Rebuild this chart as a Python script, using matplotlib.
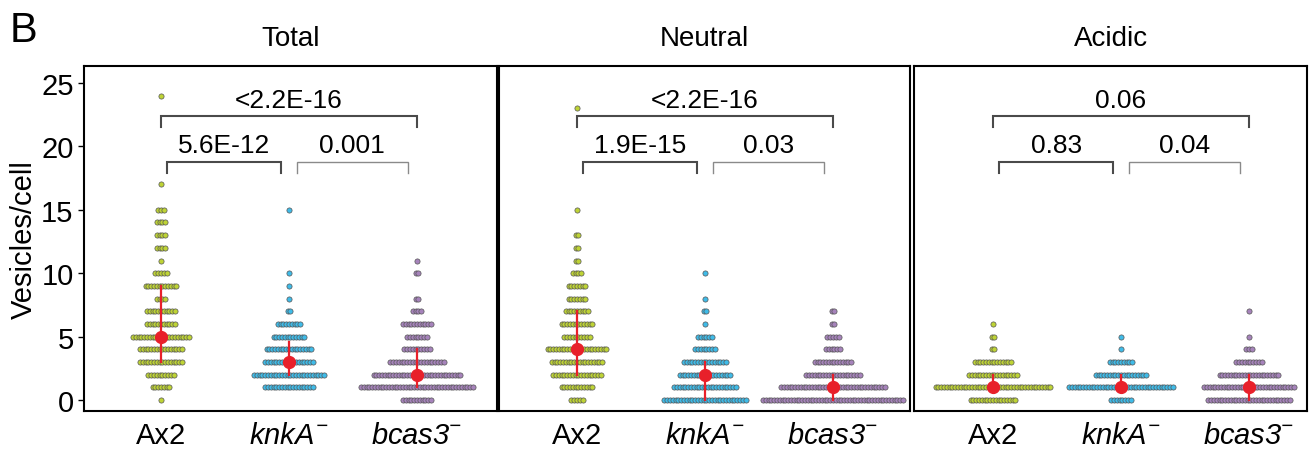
import numpy as np
import matplotlib.pyplot as plt

plt.rcParams['font.family'] = ['Liberation Sans', 'DejaVu Sans']
plt.rcParams['mathtext.fontset'] = 'custom'
# italic for the whole gene name, digits included
plt.rcParams['mathtext.rm'] = 'Liberation Sans:italic'
plt.rcParams['mathtext.it'] = 'Liberation Sans:italic'

# data: number of cells per vesicle count (index = vesicles/cell)
groups = ["Ax2", r"$\mathit{knkA}^{-}$", r"$\mathit{bcas3}^{-}$"]
colors = ["#bed335", "#3fbbe8", "#a683bb"]
panels = ["Total", "Neutral", "Acidic"]

total_ax2 = [1, 7, 10, 16, 16, 21, 11, 11, 4, 12, 5, 1, 4, 4, 4, 3, 0, 1, 0, 0, 0, 0, 0, 0, 1]
total_knka = [0, 18, 26, 18, 17, 12, 9, 2, 1, 1, 1, 0, 0, 0, 0, 1]
total_bcas3 = [11, 41, 32, 20, 10, 8, 11, 4, 2, 0, 2, 1]

neutral_ax2 = [5, 12, 18, 19, 22, 10, 12, 9, 7, 7, 4, 2, 2, 2, 0, 1, 0, 0, 0, 0, 0, 0, 0, 1]
neutral_knka = [30, 23, 19, 16, 8, 6, 1, 2, 1, 0, 1]
neutral_bcas3 = [51, 38, 20, 14, 6, 5, 2, 2]

acidic_ax2 = [17, 42, 18, 14, 2, 2, 1]
acidic_knka = [8, 38, 19, 9, 1, 1]
acidic_bcas3 = [30, 33, 22, 10, 3, 1, 0, 1]

# median, q1, q3 per group
total_stats = [(5, 3, 9), (3, 2, 4.6), (2, 1, 4)]
neutral_stats = [(4, 2, 7), (2, 0, 3), (1, 0, 2)]
acidic_stats = [(1, 1, 2), (1, 1, 2), (1, 0, 2)]

# p-values: (top bracket 1-3, 1-2, 2-3)
total_p = ["<2.2E-16", "5.6E-12", "0.001"]
neutral_p = ["<2.2E-16", "1.9E-15", "0.03"]
acidic_p = ["0.06", "0.83", "0.04"]

counts = [[total_ax2, total_knka, total_bcas3],
          [neutral_ax2, neutral_knka, neutral_bcas3],
          [acidic_ax2, acidic_knka, acidic_bcas3]]
stats = [total_stats, neutral_stats, acidic_stats]
pvals = [total_p, neutral_p, acidic_p]

W, H = 1316, 452
fig = plt.figure(figsize=(W / 100, H / 100), dpi=100)

# axes boxes in pixels: left, right, centre of first group
boxes = [(84, 497, 161), (499, 910, 577), (914, 1307, 993)]
top, bottom = 67, 412
px_unit = 128.0
py_unit = 12.68
y0 = 401

dx = 2.8 / px_unit

for k in range(3):
    l, r, c1 = boxes[k]
    ax = fig.add_axes([l / W, 1 - bottom / H, (r - l) / W, (bottom - top) / H])
    ax.set_xlim(1 - (c1 - l) / px_unit, 3 + (r - (c1 + 2 * px_unit)) / px_unit)
    ax.set_ylim(-(bottom - y0) / py_unit, (y0 - top) / py_unit)

    for g in range(3):
        xs, ys = [], []
        for v, n in enumerate(counts[k][g]):
            for i in range(n):
                xs.append(g + 1 + (i - (n - 1) / 2) * dx)
                ys.append(v)
        ax.scatter(xs, ys, s=14, color=colors[g], edgecolor="#555555",
                   linewidth=0.5, zorder=2)
        med, q1, q3 = stats[k][g]
        ax.plot([g + 1, g + 1], [q1, q3], color="#e8202a", lw=1.6, zorder=3)
        ax.plot(g + 1, med, "o", color="#e8202a", ms=8.5, zorder=4)

    # significance brackets
    def bracket(x1, x2, y, text, col, lw):
        ax.plot([x1, x1, x2, x2], [y - 0.9, y, y, y - 0.9], color=col, lw=lw,
                solid_joinstyle="miter", zorder=5)
        ax.text((x1 + x2) / 2, y + 0.35, text, ha="center", va="bottom",
                fontsize=19)

    bracket(1, 3, 22.4, pvals[k][0], "#4a4a4a", 1.5)
    bracket(1.05, 1.94, 18.8, pvals[k][1], "#4a4a4a", 1.5)
    bracket(2.06, 2.93, 18.8, pvals[k][2], "#8a8a8a", 1.0)

    ax.set_title(panels[k], fontsize=20, pad=15)
    ax.set_xticks([1, 2, 3])
    ax.set_xticklabels(groups, fontsize=21)
    ax.tick_params(axis="x", length=0, pad=7)
    for sp in ax.spines.values():
        sp.set_linewidth(1.5)
    if k == 0:
        ax.set_yticks([0, 5, 10, 15, 20, 25])
        ax.tick_params(axis="y", labelsize=21, length=4, width=1)
        ax.set_ylabel("Vesicles/cell", fontsize=21, labelpad=2)
    else:
        ax.set_yticks([])

fig.text(10 / W, 1 - 31 / H, "B", fontsize=30, va="center", ha="left")

fig.savefig("out.png", dpi=100)
